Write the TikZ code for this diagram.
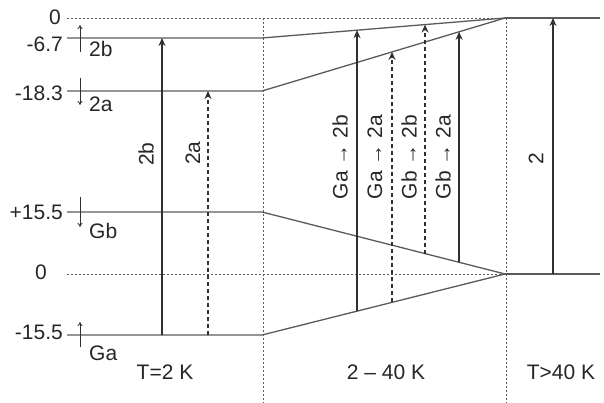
\documentclass[tikz,border=0pt]{standalone}
\usepackage{fontspec}
\setmainfont{Liberation Sans}
\usetikzlibrary{arrows.meta}
\definecolor{lvl}{HTML}{5A5A5A}
\definecolor{arr}{HTML}{303030}
\definecolor{txt}{HTML}{262626}
\begin{document}
\begin{tikzpicture}[x=1pt,y=-1pt,
  level/.style={draw=lvl, line width=1.3pt},
  guide/.style={draw=lvl, line width=0.9pt, dash pattern=on 2pt off 2pt},
  trans/.style={draw=arr, line width=1.6pt, -{Stealth[length=8pt,width=7pt]}},
  transd/.style={trans, dash pattern=on 4pt off 3pt},
  spin/.style={draw=arr, line width=0.8pt, -{To[length=4pt,width=5pt]}},
  lbl/.style={font=\fontsize{21}{24}\selectfont, text=txt, inner sep=0pt},
  rlbl/.style={lbl, rotate=90}]
\useasboundingbox (0,0) rectangle (604,403);
% level points
\coordinate (t0L) at (67,18);
\coordinate (t0M) at (505,18);
\coordinate (t0R) at (600,18);
\coordinate (a67L) at (67,38);
\coordinate (a67M) at (262,38);
\coordinate (a183L) at (67,91);
\coordinate (a183M) at (262,91);
\coordinate (b155L) at (67,212);
\coordinate (b155M) at (262,212);
\coordinate (m0L) at (67,274);
\coordinate (m0M) at (505,274);
\coordinate (m0R) at (600,274);
\coordinate (c155L) at (67,335);
\coordinate (c155M) at (262,335);
\coordinate (v1t) at (263,18);
\coordinate (v1b) at (263,403);
\coordinate (v2t) at (506,18);
\coordinate (v2b) at (506,403);
% guides
\draw[guide] (t0L) -- (t0M);
\draw[guide] (m0L) -- (m0M);
\draw[guide] (v1t) -- (v1b);
\draw[guide] (v2t) -- (v2b);
% levels
\draw[level] (a67L) -- (a67M) -- (t0M);
\draw[level] (a183L) -- (a183M) -- (t0M);
\draw[level] (b155L) -- (b155M) -- (m0M);
\draw[level] (c155L) -- (c155M) -- (m0M);
\draw[level] (t0M) -- (t0R);
\draw[level] (m0M) -- (m0R);
% arrow end points on the slanted lines
\path (c155M) -- (m0M) coordinate[pos=0.391] (s1b) coordinate[pos=0.535] (s2b);
\path (a67M) -- (t0M) coordinate[pos=0.391] (s1t) coordinate[pos=0.671] (s3t);
\path (a183M) -- (t0M) coordinate[pos=0.535] (s2t) coordinate[pos=0.811] (s4t);
\path (b155M) -- (m0M) coordinate[pos=0.671] (s3b) coordinate[pos=0.811] (s4b);
\coordinate (l1b) at (162,335);
\coordinate (l1t) at (162,38);
\coordinate (l2b) at (208,335);
\coordinate (l2t) at (208,91);
\coordinate (r1b) at (553,274);
\coordinate (r1t) at (553,18);
% transitions
\draw[trans] (l1b) -- (l1t);
\draw[transd] (l2b) -- (l2t);
\draw[trans] (s1b) -- (s1t);
\draw[transd] (s2b) -- (s2t);
\draw[transd] (s3b) -- (s3t);
\draw[trans] (s4b) -- (s4t);
\draw[trans] (r1b) -- (r1t);
% spin arrows
\coordinate (p1a) at (80,52); \coordinate (p1b) at (80,25);
\coordinate (p2a) at (80,78); \coordinate (p2b) at (80,105);
\coordinate (p3a) at (80,197); \coordinate (p3b) at (80,227);
\coordinate (p4a) at (80,347); \coordinate (p4b) at (80,322);
\draw[spin] (p1a) -- (p1b);
\draw[spin] (p2a) -- (p2b);
\draw[spin] (p3a) -- (p3b);
\draw[spin] (p4a) -- (p4b);
% value labels
\node[lbl, anchor=east] (v0t) at (61,17) {0};
\node[lbl, anchor=east] (v67) at (63,44) {-6.7};
\node[lbl, anchor=east] (v183) at (63,93) {-18.3};
\node[lbl, anchor=east] (v155p) at (63,212) {+15.5};
\node[lbl, anchor=east] (v0m) at (47,272) {0};
\node[lbl, anchor=east] (v155m) at (63,332) {-15.5};
% state labels
\node[lbl, anchor=west] (n2b) at (89,49) {2b};
\node[lbl, anchor=west] (n2a) at (89,104) {2a};
\node[lbl, anchor=west] (nGb) at (89,231) {Gb};
\node[lbl, anchor=west] (nGa) at (89,353) {Ga};
% bottom labels
\node[lbl] (b1) at (165,372) {T=2 K};
\node[lbl] (b2) at (386,372) {2 – 40 K};
\node[lbl] (b3) at (561,372) {T>40 K};
% rotated labels
\node[rlbl] (r2b) at (146,154) {2b};
\node[rlbl] (r2a) at (193,153) {2a};
\node[rlbl] (rq1) at (340,157) {Ga → 2b};
\node[rlbl] (rq2) at (375,157) {Ga → 2a};
\node[rlbl] (rq3) at (409,157) {Gb → 2b};
\node[rlbl] (rq4) at (443,157) {Gb → 2a};
\node[rlbl] (rq5) at (536,159) {2};
\end{tikzpicture}
\end{document}
